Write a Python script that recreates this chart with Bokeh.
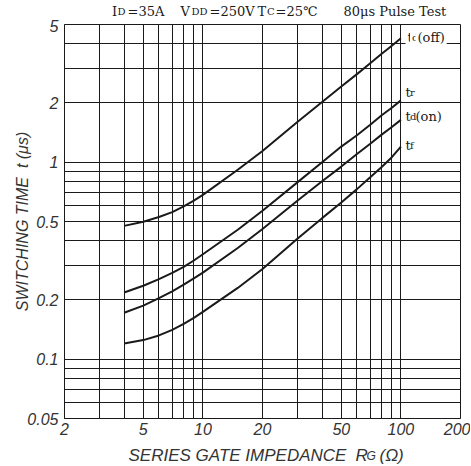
from bokeh.plotting import figure
from bokeh.layouts import column
from bokeh.models import Range1d, FixedTicker, Label, CustomJSTickFormatter
from bokeh.embed import file_html
from bokeh.resources import INLINE

# ---- data ----
rg = [4, 5, 6, 7, 8, 9, 10, 15, 20, 30, 40, 50, 60, 70, 80, 90, 100]
td_off = [0.475, 0.499, 0.527, 0.558, 0.597, 0.638, 0.683, 0.915, 1.14, 1.60, 2.02, 2.42, 2.80, 3.18, 3.55, 3.90, 4.26]
t_r = [0.218, 0.236, 0.255, 0.274, 0.294, 0.317, 0.341, 0.454, 0.567, 0.79, 1.0, 1.2, 1.37, 1.55, 1.73, 1.89, 2.06]
td_on = [0.172, 0.187, 0.204, 0.221, 0.239, 0.257, 0.275, 0.367, 0.458, 0.637, 0.80, 0.95, 1.10, 1.24, 1.38, 1.51, 1.64]
t_f = [0.120, 0.125, 0.132, 0.141, 0.151, 0.162, 0.174, 0.230, 0.287, 0.409, 0.52, 0.625, 0.73, 0.838, 0.945, 1.06, 1.2]

x_major = [2, 5, 10, 20, 50, 100, 200]
y_major = [0.05, 0.1, 0.2, 0.5, 1, 2, 5]
x_grid = [2, 3, 4, 5, 6, 7, 8, 9, 10, 20, 30, 40, 50, 60, 70, 80, 90, 100, 200]
y_grid = [0.05, 0.06, 0.07, 0.08, 0.09, 0.1, 0.2, 0.3, 0.4, 0.5, 0.6, 0.7, 0.8, 0.9, 1, 2, 3, 4, 5]

INK = "#1a1a1a"
GREY = "#333333"
SERIF = "DejaVu Serif"
SANS = "Liberation Sans"

W = 470
TOP_H = 19            # title strip
MAIN_TOP = 5          # main figure border above frame
FRAME_W, FRAME_H = 396, 394
MAIN_LEFT, MAIN_BOTTOM = 64, 24
MAIN_RIGHT = W - MAIN_LEFT - FRAME_W
BOT_H = 23            # x-title strip
BASE_FIX = 4.5        # measured baseline shift of Label text

p = figure(
    x_axis_type="log", y_axis_type="log",
    x_range=Range1d(2, 200), y_range=Range1d(0.05, 5),
    frame_width=FRAME_W, frame_height=FRAME_H,
    min_border_left=MAIN_LEFT, min_border_right=MAIN_RIGHT,
    min_border_top=MAIN_TOP, min_border_bottom=MAIN_BOTTOM,
    output_backend="svg", toolbar_location=None,
)
p.background_fill_color = "white"
p.border_fill_color = "white"
p.outline_line_color = INK
p.outline_line_width = 1

# grid
p.xgrid.ticker = FixedTicker(ticks=x_grid)
p.ygrid.ticker = FixedTicker(ticks=y_grid)
for g in (p.xgrid, p.ygrid):
    g.grid_line_color = INK
    g.grid_line_width = 1
    g.grid_line_alpha = 1

# axes
p.xaxis.ticker = FixedTicker(ticks=x_major)
p.yaxis.ticker = FixedTicker(ticks=y_major)
fmt = CustomJSTickFormatter(code="return String(tick)")
p.xaxis.formatter = fmt
p.yaxis.formatter = fmt
for ax in (p.xaxis, p.yaxis):
    ax.axis_line_color = INK
    ax.major_tick_line_color = None
    ax.minor_tick_line_color = None
    ax.major_tick_out = 0
    ax.major_tick_in = 0
    ax.major_label_text_font = SANS
    ax.major_label_text_font_style = "italic"
    ax.major_label_text_font_size = "16px"
    ax.major_label_text_color = GREY
p.xaxis.major_label_standoff = 4
p.yaxis.major_label_standoff = 6
p.yaxis.axis_label = "SWITCHING TIME\u00a0 t (\u03bcs)"
p.yaxis.axis_label_text_font = SANS
p.yaxis.axis_label_text_font_style = "italic"
p.yaxis.axis_label_text_font_size = "16px"
p.yaxis.axis_label_text_color = GREY
p.yaxis.axis_label_standoff = -7

# curves
for ys in (td_off, t_r, td_on, t_f):
    p.line(rg, ys, line_color=INK, line_width=2)


def add_label(fig, oy, text, px, py, size, font=SERIF, style="normal",
              color=INK, bg=None):
    """Place a text with its left end at page pixel px and baseline at py;
    oy = page y of the figure frame's bottom edge."""
    l = Label(x=px - MAIN_LEFT, y=oy - (py - BASE_FIX), x_units="screen", y_units="screen",
              text=text, text_font=font, text_font_style=style,
              text_font_size=size, text_align="left", text_baseline="alphabetic",
              text_color=color)
    if bg is not None:
        l.background_fill_color = bg
        l.padding = 2
    fig.add_layout(l)


def strip(height):
    s = figure(width=W, height=height, x_range=Range1d(0, 1), y_range=Range1d(0, 1),
               min_border_left=MAIN_LEFT, min_border_right=MAIN_RIGHT,
               min_border_top=0, min_border_bottom=0,
               x_axis_location=None, y_axis_location=None,
               output_backend="svg", toolbar_location=None)
    s.outline_line_color = None
    s.background_fill_color = "white"
    s.border_fill_color = "white"
    s.grid.visible = False
    return s


FB = TOP_H + MAIN_TOP + FRAME_H          # main frame bottom (page px)
BIG, SUB = "13px", "10px"

# curve labels (inside the frame)
add_label(p, FB, "t", 405, 41, BIG, bg="white")
add_label(p, FB, "d", 409.5, 41, SUB, bg="white")
add_label(p, FB, "(off)", 415, 41, BIG, bg="white")
add_label(p, FB, "t", 405, 96, BIG)
add_label(p, FB, "r", 409.5, 96, SUB)
add_label(p, FB, "t", 405, 120, BIG)
add_label(p, FB, "d", 409.5, 120, SUB)
add_label(p, FB, "(on)", 415, 120, BIG)
add_label(p, FB, "t", 405, 149, BIG)
add_label(p, FB, "f", 409.5, 149, SUB)

# title strip
top = strip(TOP_H)
TY = 15.8
for txt, px, sz in [("I", 111.5, BIG), ("D", 117, SUB), ("=35A", 127, BIG),
                    ("V", 180, BIG), ("DD", 191, SUB), ("=250V", 209, BIG),
                    ("T", 257, BIG), ("C", 266.5, SUB), ("=25\u2103", 275, BIG),
                    ("80\u03bcs Pulse Test", 343, BIG)]:
    add_label(top, TOP_H, txt, px, TY, sz)

# x-title strip
bot = strip(BOT_H)
BOT_END = FB + MAIN_BOTTOM + BOT_H
XY = 459.5
for txt, px, sz in [("SERIES GATE IMPEDANCE", 128, "17px"), ("R", 355, "17px"),
                    ("G", 366, "12px"), ("(\u03a9)", 379, "17px")]:
    add_label(bot, BOT_END, txt, px, XY, sz, font=SANS, style="italic", color=GREY)

layout = column(top, p, bot, spacing=0)
open("out.html", "w").write(file_html(layout, INLINE))
